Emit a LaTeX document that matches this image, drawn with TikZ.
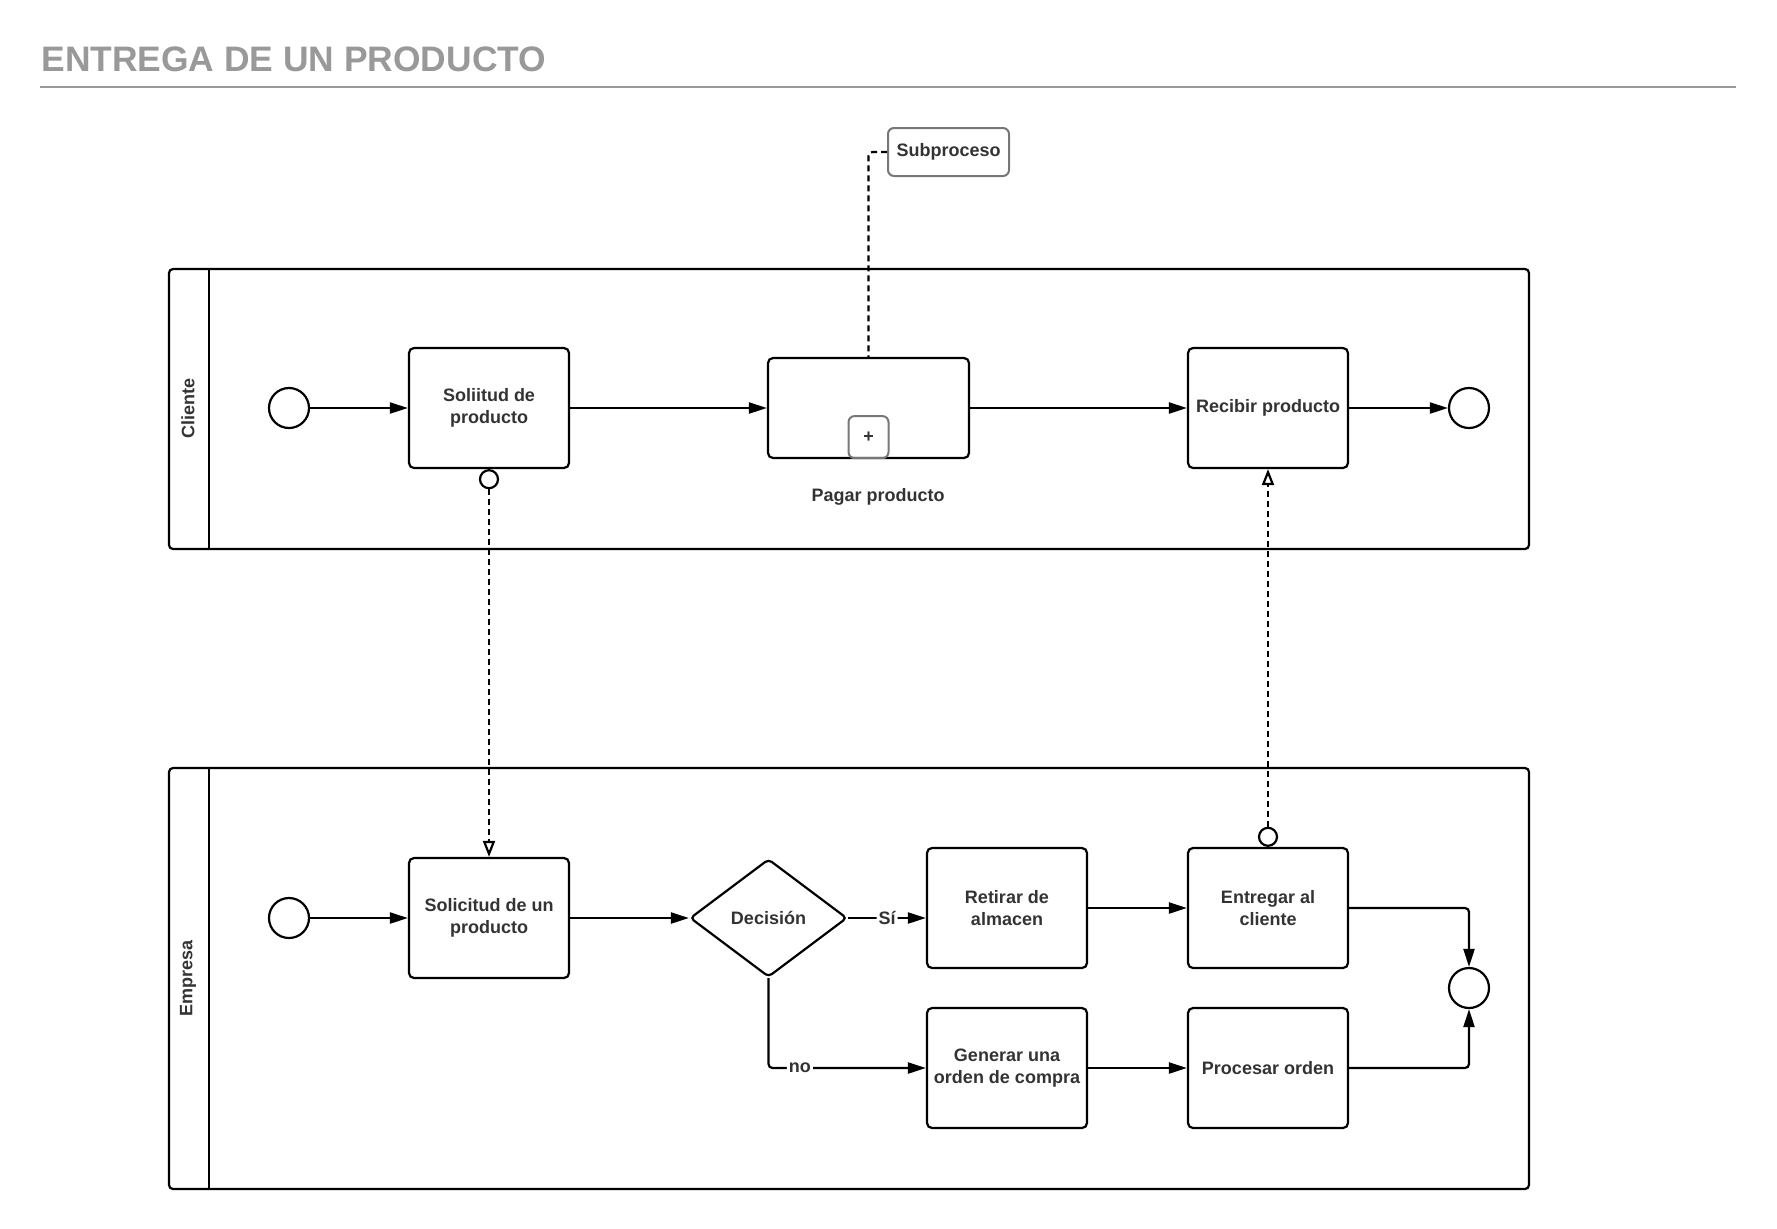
\documentclass[tikz,border=0pt]{standalone}
\usepackage{fontspec}
\setmainfont{Liberation Sans}
\usetikzlibrary{shapes.geometric,arrows.meta}
\definecolor{txt}{HTML}{333333}
\definecolor{ttl}{HTML}{999999}
\definecolor{grayline}{HTML}{777777}
\begin{document}
\begin{tikzpicture}[x=0.5pt,y=-0.5pt,
  every node/.style={font=\fontsize{9}{10.75}\selectfont\bfseries, text=txt},
  pool/.style={draw, line width=1.1pt, rounded corners=2pt},
  task/.style={draw, line width=1.1pt, rounded corners=2.5pt, minimum width=80pt,
    minimum height=60pt, align=center, inner sep=2pt},
  event/.style={draw, circle, line width=1.1pt, minimum size=20pt, inner sep=0pt},
  gateway/.style={draw, diamond, line width=1.1pt, rounded corners=2pt,
    minimum width=78.5pt, minimum height=59pt, inner sep=0pt},
  msgdot/.style={draw, circle, line width=1.1pt, minimum size=9pt, inner sep=0pt},
  flow/.style={line width=1.1pt, rounded corners=2pt, -{Triangle[length=9pt,width=5.5pt]}},
  msg/.style={line width=1.1pt, dash pattern=on 3pt off 2pt,
    -{Triangle[open,length=8pt,width=6pt]}},
  assoc/.style={line width=1.1pt, dash pattern=on 3pt off 2pt, rounded corners=2pt},
  lbl/.style={fill=white, inner sep=1pt}
]
\useasboundingbox (0,0) rectangle (1777,1228);

% title and rule
\node[anchor=base west, inner sep=0pt, text=ttl,
  font=\fontsize{17.7}{20}\selectfont\bfseries] (title) at (41,71) {ENTREGA DE UN PRODUCTO};
\draw[ttl, line width=1pt] (40,87) coordinate (ruleL) -- (1736,87) coordinate (ruleR);

% pools
\draw[pool] (169,269) rectangle (1529,549);
\draw[line width=1.1pt] (209,269) -- (209,549);
\node[rotate=90] (cliente) at (188,408) {Cliente};

\draw[pool] (169,768) rectangle (1529,1189);
\draw[line width=1.1pt] (209,768) -- (209,1189);
\node[rotate=90] (empresa) at (188,978) {Empresa};

% Cliente lane
\node[event] (s1) at (289,408) {};
\node[task] (t1) at (489,408) {Soliitud de\\producto};
\node[task, minimum width=100.5pt, minimum height=50pt] (pag) at (868.5,408) {};
\node[draw=grayline, line width=1pt, rounded corners=3pt, minimum width=20pt,
  minimum height=21pt, inner sep=0pt, anchor=south] (plus) at (pag.south) {+};
\node (paglbl) at (878,497) {Pagar producto};
\node[task] (rec) at (1268,408) {Recibir producto};
\node[event] (e1) at (1469,408) {};

\draw[flow] (s1) -- (t1);
\draw[flow] (t1) -- (pag);
\draw[flow] (pag) -- (rec);
\draw[flow] (rec) -- (e1);

% annotation
\node[draw=grayline, line width=1pt, rounded corners=3pt, minimum width=60.5pt,
  minimum height=24pt, inner sep=0pt] (sub) at (948.5,152) {Subproceso};
\draw[assoc] (sub.west) -| (pag.north);

% Empresa lane
\node[event] (s2) at (289,918) {};
\node[task] (t2) at (489,918) {Solicitud de un\\producto};
\node[gateway] (gw) at (768.5,918) {Decisión};
\node[task] (ret) at (1007,908) {Retirar de\\almacen};
\node[task] (ent) at (1268,908) {Entregar al\\cliente};
\node[task] (gen) at (1007,1068) {Generar una\\orden de compra};
\node[task] (proc) at (1268,1068) {Procesar orden};
\node[event] (e2) at (1469,988) {};

\draw[flow] (s2) -- (t2);
\draw[flow] (t2) -- (gw);
\draw[flow] (gw.east) -- (gw.east -| ret.west) node[lbl, midway] {Sí};
\draw[flow] (gw.south) |- (gen.west) node[lbl, pos=0.6] {no};
\draw[flow] (ret) -- (ent);
\draw[flow] (gen) -- (proc);
\draw[flow] (ent.east) -| (e2.north);
\draw[flow] (proc.east) -| (e2.south);

% message flows
\node[msgdot, anchor=north] (m1) at (t1.south) {};
\draw[msg] (m1.south) -- (t2.north);
\node[msgdot, anchor=south] (m2) at (ent.north) {};
\draw[msg] (m2.north) -- (rec.south);
\end{tikzpicture}
\end{document}
